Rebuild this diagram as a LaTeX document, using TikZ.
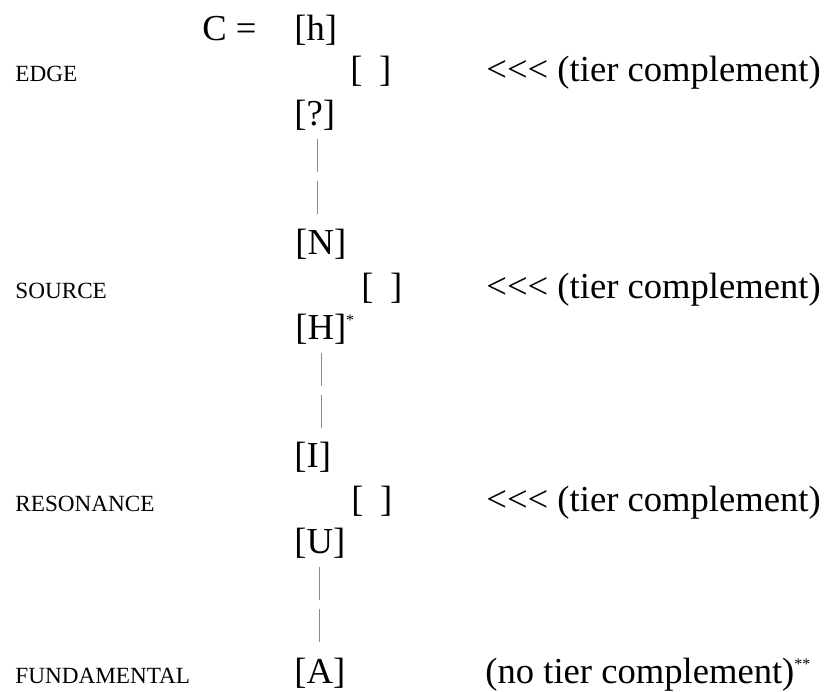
\documentclass[tikz,border=0pt]{standalone}
\usepackage{fontspec}
\setmainfont{Liberation Serif}
\newcommand{\notestar}[1]{\raisebox{7pt}{\fontsize{8}{9}\selectfont #1}}

\begin{document}
\begin{tikzpicture}[
x=0.5pt,y=-0.5pt,
elem/.style={anchor=base west,inner sep=0pt,font=\fontsize{18.3}{22}\selectfont},
tierlabel/.style={anchor=base west,inner sep=0pt,font=\fontsize{11.6}{14}\selectfont},
tierline/.style={draw=black!45,line width=0.6pt,dash pattern=on 16.5pt off 4.5pt,shorten <=4.5pt,shorten >=5.5pt}
]

\useasboundingbox (0,0) rectangle (829,691);

\node[elem]
(C)
at (202,40)
{C =};

\node[elem]
(h)
at (294,40)
{[h]};

\node[elem]
(e1)
at (350,81)
{[\hspace{0.45em}]};

\node[elem]
(q)
at (294,125)
{[?]};

\node[elem]
(N)
at (295,254)
{[N]};

\node[elem]
(e2)
at (361,298)
{[\hspace{0.45em}]};

\node[elem]
(H)
at (295,339)
{[H]\notestar{*}};

\node[elem]
(I)
at (294,467)
{[I]};

\node[elem]
(e3)
at (351,511)
{[\hspace{0.45em}]};

\node[elem]
(U)
at (294,553)
{[U]};

\node[elem]
(A)
at (294,683)
{[A]};

\node[tierlabel]
(edge)
at (15,81)
{EDGE};

\node[tierlabel]
(source)
at (15,298)
{SOURCE};

\node[tierlabel]
(resonance)
at (15,511)
{RESONANCE};

\node[tierlabel]
(fundamental)
at (15,683)
{FUNDAMENTAL};

\node[elem]
(comp1)
at (486,81)
{<{}<{}< (tier complement)};

\node[elem]
(comp2)
at (486,298)
{<{}<{}< (tier complement)};

\node[elem]
(comp3)
at (486,511)
{<{}<{}< (tier complement)};

\node[elem]
(comp4)
at (485,683)
{(no tier complement)\notestar{**}};

\draw[tierline]
([xshift=1.5pt]q.south)
--
([xshift=1.5pt]q.south |- N.north);

\draw[tierline]
([xshift=-1.5pt]H.south)
--
([xshift=-1.5pt]H.south |- I.north);

\draw[tierline]
(U.south)
--
(U.south |- A.north);

\end{tikzpicture}
\end{document}
